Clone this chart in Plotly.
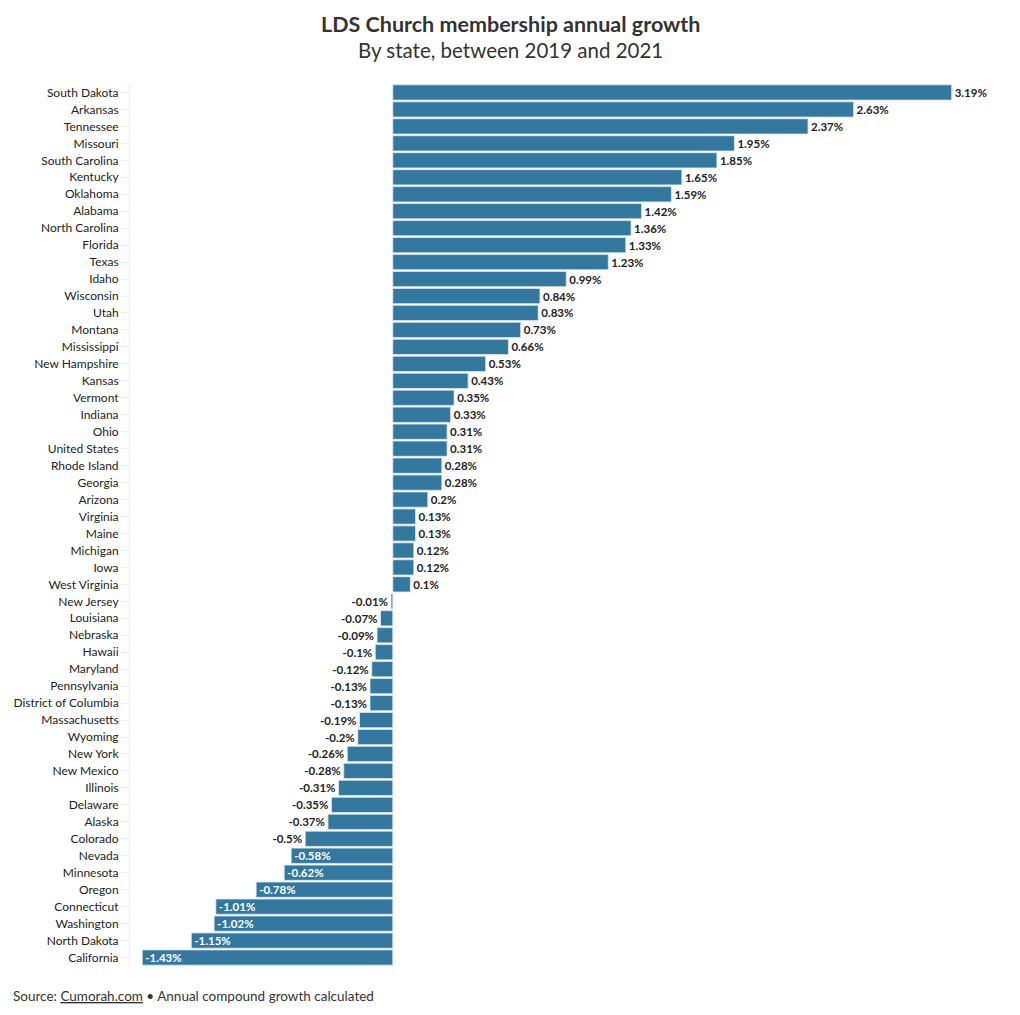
import plotly.graph_objects as go

states = ["South Dakota", "Arkansas", "Tennessee", "Missouri", "South Carolina", "Kentucky",
          "Oklahoma", "Alabama", "North Carolina", "Florida", "Texas", "Idaho", "Wisconsin",
          "Utah", "Montana", "Mississippi", "New Hampshire", "Kansas", "Vermont", "Indiana",
          "Ohio", "United States", "Rhode Island", "Georgia", "Arizona", "Virginia", "Maine",
          "Michigan", "Iowa", "West Virginia", "New Jersey", "Louisiana", "Nebraska", "Hawaii",
          "Maryland", "Pennsylvania", "District of Columbia", "Massachusetts", "Wyoming",
          "New York", "New Mexico", "Illinois", "Delaware", "Alaska", "Colorado", "Nevada",
          "Minnesota", "Oregon", "Connecticut", "Washington", "North Dakota", "California"]
growth = [3.19, 2.63, 2.37, 1.95, 1.85, 1.65, 1.59, 1.42, 1.36, 1.33, 1.23, 0.99, 0.84,
          0.83, 0.73, 0.66, 0.53, 0.43, 0.35, 0.33, 0.31, 0.31, 0.28, 0.28, 0.2, 0.13, 0.13,
          0.12, 0.12, 0.1, -0.01, -0.07, -0.09, -0.1, -0.12, -0.13, -0.13, -0.19, -0.2,
          -0.26, -0.28, -0.31, -0.35, -0.37, -0.5, -0.58, -0.62, -0.78, -1.01, -1.02,
          -1.15, -1.43]

labels = [f"{v:g}%" for v in growth]
positions = ["inside" if v < -0.55 else "outside" for v in growth]
colors = ["white" if p == "inside" else "#222222" for p in positions]

FONT = "Lato"
W, H = 1020, 1015
ML, MR, MT, MB = 130, 14, 84, 49
PH = H - MT - MB

fig = go.Figure(go.Bar(
    x=growth, y=states, orientation="h",
    marker=dict(color="#35789f", line=dict(color="#dfe9f0", width=0.8)),
    text=labels, textposition=positions, insidetextanchor="end",
    textfont=dict(family=FONT, size=11.5, color=colors, weight="bold"),
    constraintext="none",
    cliponaxis=False, hoverinfo="skip",
))

fig.update_layout(
    width=W, height=H,
    margin=dict(l=ML, r=MR, t=MT, b=MB),
    paper_bgcolor="white", plot_bgcolor="white",
    bargap=0.1,
    showlegend=False,
    font=dict(family=FONT, color="#333333"),
    xaxis=dict(range=[-1.5, 3.5], showticklabels=False, showgrid=False,
               zeroline=False, showline=False, fixedrange=True),
    yaxis=dict(autorange="reversed", showgrid=False, zeroline=False,
               showline=True, linecolor="#eeeeee", linewidth=1,
               ticks="outside", ticklen=8, tickcolor="#eeeeee",
               tickfont=dict(family=FONT, size=12, color="#222222"),
               automargin=False),
    annotations=[
        dict(text="<b>LDS Church membership annual growth</b>",
             xref="paper", yref="paper", x=(W / 2 - ML) / (W - ML - MR), y=1 + (MT - 24) / PH,
             xanchor="center", yanchor="middle", showarrow=False,
             font=dict(family=FONT, size=21.5, color="#333333")),
        dict(text="By state, between 2019 and 2021",
             xref="paper", yref="paper", x=(W / 2 - ML) / (W - ML - MR), y=1 + (MT - 50) / PH,
             xanchor="center", yanchor="middle", showarrow=False,
             font=dict(family=FONT, size=20.5, color="#333333")),
        dict(text="Source: <u>Cumorah.com</u> • Annual compound growth calculated",
             xref="paper", yref="paper", x=-(ML - 11) / (W - ML - MR), y=-(996 - MT - PH) / PH,
             xanchor="left", yanchor="middle",
             showarrow=False, font=dict(family=FONT, size=13.5, color="#333333")),
    ],
)

fig.write_html("out.html", config={"displayModeBar": False},
               post_script="document.body.style.margin='0';document.body.style.overflow='hidden';")
